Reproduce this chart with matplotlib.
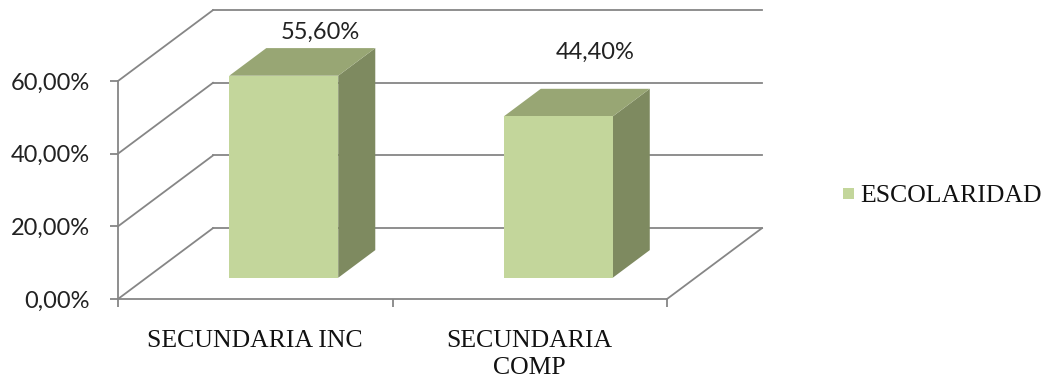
import matplotlib
matplotlib.use("Agg")
import matplotlib.pyplot as plt
from matplotlib.patches import Polygon, Rectangle
from matplotlib.lines import Line2D

# Data
categories = ["SECUNDARIA INC", "SECUNDARIA\nCOMP"]
values = [55.60, 44.40]
yticks = [0, 20, 40, 60]
series_name = "ESCOLARIDAD"

# Styling
FRONT = "#C3D69B"
TOP = "#98A674"
SIDE = "#7E8A60"
GRID = "#868686"
SANS = ["Lato", "DejaVu Sans"]
SERIF = ["Liberation Serif", "DejaVu Serif"]
SANS_SIZE = 17
SERIF_SIZE = 18.5

# Oblique depth offset of the back wall (in data units)
DX, DY = 0.346, 19.5
# Bar depth span (fraction of full depth) and width (category units)
D0, D1 = 0.30, 0.69
W = 0.397
label_offsets_pt = [11, 26]

W_PX, H_PX = 1055, 385
fig = plt.figure(figsize=(W_PX / 100, H_PX / 100), dpi=100)
ax = fig.add_axes([118 / W_PX, 86 / H_PX, 549 / W_PX, 218 / H_PX])
ax.set_xlim(0, len(categories))
ax.set_ylim(0, 60)
for s in ["top", "right"]:
    ax.spines[s].set_visible(False)
for s in ["left", "bottom"]:
    ax.spines[s].set_color(GRID)
    ax.spines[s].set_linewidth(1.3)
ax.patch.set_alpha(0)

n = len(categories)
lw = 1.3
# back wall gridlines and side wall diagonals
for v in yticks:
    ax.add_line(Line2D([DX, n + DX], [v + DY, v + DY], color=GRID, lw=lw,
                       clip_on=False, zorder=1))
    ax.add_line(Line2D([0, DX], [v, v + DY], color=GRID, lw=lw,
                       clip_on=False, zorder=1))
# floor right edge
ax.add_line(Line2D([n, n + DX], [0, DY], color=GRID, lw=lw, clip_on=False, zorder=1))

# y axis ticks and labels
ax.set_yticks(yticks)
ax.set_yticklabels([f"{t:.2f}%".replace(".", ",") for t in yticks],
                   fontfamily=SANS, fontsize=SANS_SIZE, color="#222222")
ax.tick_params(axis="y", length=6, width=1.3, color=GRID, pad=14)

# x axis: boundary ticks + category labels
ax.set_xticks(range(n + 1))
ax.set_xticklabels([""] * (n + 1))
ax.tick_params(axis="x", which="major", length=6, width=1.3, color=GRID)
ax.set_xticks([i + 0.5 for i in range(n)], minor=True)
ax.set_xticklabels(categories, minor=True, fontfamily=SERIF, fontsize=SERIF_SIZE,
                   color="#111111", linespacing=1.3)
ax.tick_params(axis="x", which="minor", length=0, pad=22)

ddx = (D1 - D0) * DX
for i, v in enumerate(values):
    xl = i + 0.5 - W / 2 + D0 * DX
    xr = xl + W
    y0 = D0 * DY
    yt = v + D0 * DY
    y1 = D1 * DY
    side = Polygon([(xr, y0), (xr, yt), (xr + ddx, v + y1), (xr + ddx, y1)],
                   closed=True, facecolor=SIDE, edgecolor="none",
                   clip_on=False, zorder=3)
    top = Polygon([(xl, yt), (xr, yt), (xr + ddx, v + y1), (xl + ddx, v + y1)],
                  closed=True, facecolor=TOP, edgecolor="none",
                  clip_on=False, zorder=3)
    front = Rectangle((xl, y0), W, v, facecolor=FRONT, edgecolor="none",
                      clip_on=False, zorder=4)
    for p in (side, top, front):
        ax.add_patch(p)
    ax.annotate(f"{v:.2f}%".replace(".", ","),
                xy=(xl + W / 2 + ddx, v + y1), xytext=(0, label_offsets_pt[i]),
                textcoords="offset points", ha="center", va="center",
                fontfamily=SANS, fontsize=SANS_SIZE, color="#222222",
                annotation_clip=False, zorder=5)

# legend
fig.patches.append(Rectangle((843 / W_PX, 1 - 199 / H_PX), 11 / W_PX, 11 / H_PX,
                             transform=fig.transFigure, facecolor=FRONT,
                             edgecolor="none"))
fig.text(860 / W_PX, 1 - 196 / H_PX, series_name, fontfamily=SERIF,
         fontsize=SERIF_SIZE, color="#111111", ha="left", va="center")

fig.savefig("out.png", dpi=100, facecolor="white")
